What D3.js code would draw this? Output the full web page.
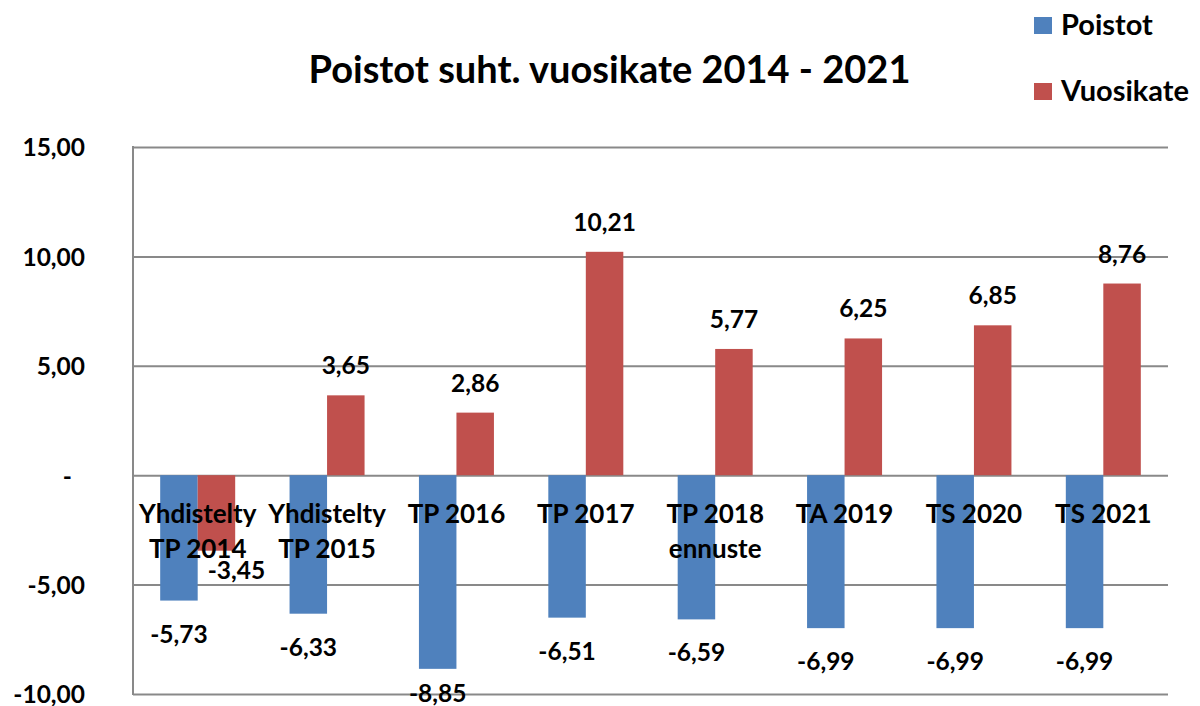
<!DOCTYPE html>
<html lang="fi">
<head>
    <meta charset="UTF-8">
    <script src="https://cdn.jsdelivr.net/npm/d3@7"></script>
    <style>
        body { margin: 0; background: #fff; }
        svg text { font-family: Lato, "Open Sans", sans-serif; font-weight: bold; fill: #000; }
    </style>
</head>
<body>
    <div id="chart"></div>
</body>
<script>
    // DATA:

    // category labels (one array per label, each entry is one text line)
    const CATEGORIES = [
        ["Yhdistelty", "TP 2014"],
        ["Yhdistelty", "TP 2015"],
        ["TP 2016"],
        ["TP 2017"],
        ["TP 2018", "ennuste"],
        ["TA 2019"],
        ["TS 2020"],
        ["TS 2021"]
    ];
    const SERIES = ["Poistot", "Vuosikate"];
    const POISTOT = [-5.73, -6.33, -8.85, -6.51, -6.59, -6.99, -6.99, -6.99];
    const VUOSIKATE = [-3.45, 3.65, 2.86, 10.21, 5.77, 6.25, 6.85, 8.76];
    const Y_TICKS = [-10, -5, 0, 5, 10, 15];
    const TITLE = "Poistot suht. vuosikate 2014 - 2021";

    // LAYOUT / STYLE:

    const WIDTH = 1200;
    const HEIGHT = 706;
    const PLOT = { left: 133, right: 1168, top: 147, bottom: 694 };
    const COLORS = { Poistot: "#4F81BD", Vuosikate: "#C0504D" };
    const GRID_COLOR = "#898989";
    const LABEL_SIZE = 24.5;   // numbers
    const CAT_SIZE = 26;       // category names

    // comma as decimal separator, plain hyphen as minus
    const fi = d3.formatLocale({ decimal: ",", thousands: " ", grouping: [3], currency: ["", " €"], minus: "-" });
    const fmt = fi.format(".2f");

    const rows = CATEGORIES.map((c, i) => ({ i: i, lines: c, Poistot: POISTOT[i], Vuosikate: VUOSIKATE[i] }));

    // CONSTRUCT SVG:

    const svg = d3.select("#chart").append("svg")
        .attr("width", WIDTH)
        .attr("height", HEIGHT);

    const x = d3.scaleBand()
        .domain(rows.map(d => d.i))
        .range([PLOT.left, PLOT.right])
        .paddingInner(0)
        .paddingOuter(0);
    const xs = d3.scaleBand()
        .domain(SERIES)
        .range([0, x.bandwidth()])
        .paddingInner(0)
        .paddingOuter(0.725);
    const y = d3.scaleLinear()
        .domain([d3.min(Y_TICKS), d3.max(Y_TICKS)])
        .range([PLOT.bottom, PLOT.top]);

    // gridlines + y tick labels through axisLeft
    const yAxis = svg.append("g")
        .attr("transform", `translate(${PLOT.left},0)`)
        .call(d3.axisLeft(y)
            .tickValues(Y_TICKS)
            .tickSizeInner(-(PLOT.right - PLOT.left))
            .tickSizeOuter(0)
            .tickPadding(48)
            .tickFormat(v => v === 0 ? "-" : fmt(v)));
    yAxis.select(".domain").remove();
    yAxis.selectAll(".tick line")
        .attr("stroke", GRID_COLOR)
        .attr("stroke-width", 2);
    yAxis.selectAll(".tick text")
        .attr("font-size", LABEL_SIZE)
        .attr("dy", null)
        .attr("y", LABEL_SIZE * 0.36)
        .attr("dx", v => v === 0 ? -13 : 0);

    // left axis line
    svg.append("line")
        .attr("x1", PLOT.left).attr("x2", PLOT.left)
        .attr("y1", y(d3.max(Y_TICKS)) - 1).attr("y2", y(d3.min(Y_TICKS)) + 1)
        .attr("stroke", GRID_COLOR)
        .attr("stroke-width", 2);

    // bars
    const groups = svg.append("g").selectAll("g")
        .data(rows)
        .join("g")
        .attr("transform", d => `translate(${x(d.i)},0)`);

    groups.selectAll("rect")
        .data(d => SERIES.map(s => ({ key: s, value: d[s] })))
        .join("rect")
        .attr("x", d => xs(d.key))
        .attr("width", xs.bandwidth())
        .attr("y", d => y(Math.max(0, d.value)))
        .attr("height", d => Math.abs(y(d.value) - y(0)))
        .attr("fill", d => COLORS[d.key]);

    // category labels (drawn over the bars, as in the original)
    groups.append("text")
        .attr("text-anchor", "middle")
        .attr("font-size", CAT_SIZE)
        .selectAll("tspan")
        .data(d => d.lines)
        .join("tspan")
        .attr("x", x.bandwidth() / 2)
        .attr("y", (d, k) => 523 + k * 35)
        .text(d => d);

    // value labels
    groups.selectAll("text.val")
        .data(d => SERIES.map(s => ({ key: s, value: d[s] })))
        .join("text")
        .attr("class", "val")
        .attr("text-anchor", "middle")
        .attr("font-size", LABEL_SIZE)
        .attr("x", d => xs(d.key) + xs.bandwidth() / 2 + (d.value < 0 && d.key === "Vuosikate" ? 20 : 0))
        .attr("y", d => {
            if (d.value >= 0) return y(d.value) - 21;
            const off = d.key === "Vuosikate" ? 28 : 42;
            return Math.min(y(d.value) + off, 702);
        })
        .text(d => fmt(d.value));

    // title
    svg.append("text")
        .attr("x", 609.5)
        .attr("y", 83)
        .attr("text-anchor", "middle")
        .attr("font-size", 38)
        .text(TITLE);

    // legend
    const legend = svg.append("g").selectAll("g")
        .data(SERIES)
        .join("g")
        .attr("transform", (d, i) => `translate(1034,${17 + i * 66})`);
    legend.append("rect")
        .attr("width", 18)
        .attr("height", 17)
        .attr("fill", d => COLORS[d]);
    legend.append("text")
        .attr("x", 27)
        .attr("y", 18)
        .attr("font-size", 29)
        .text(d => d);
</script>
</html>
